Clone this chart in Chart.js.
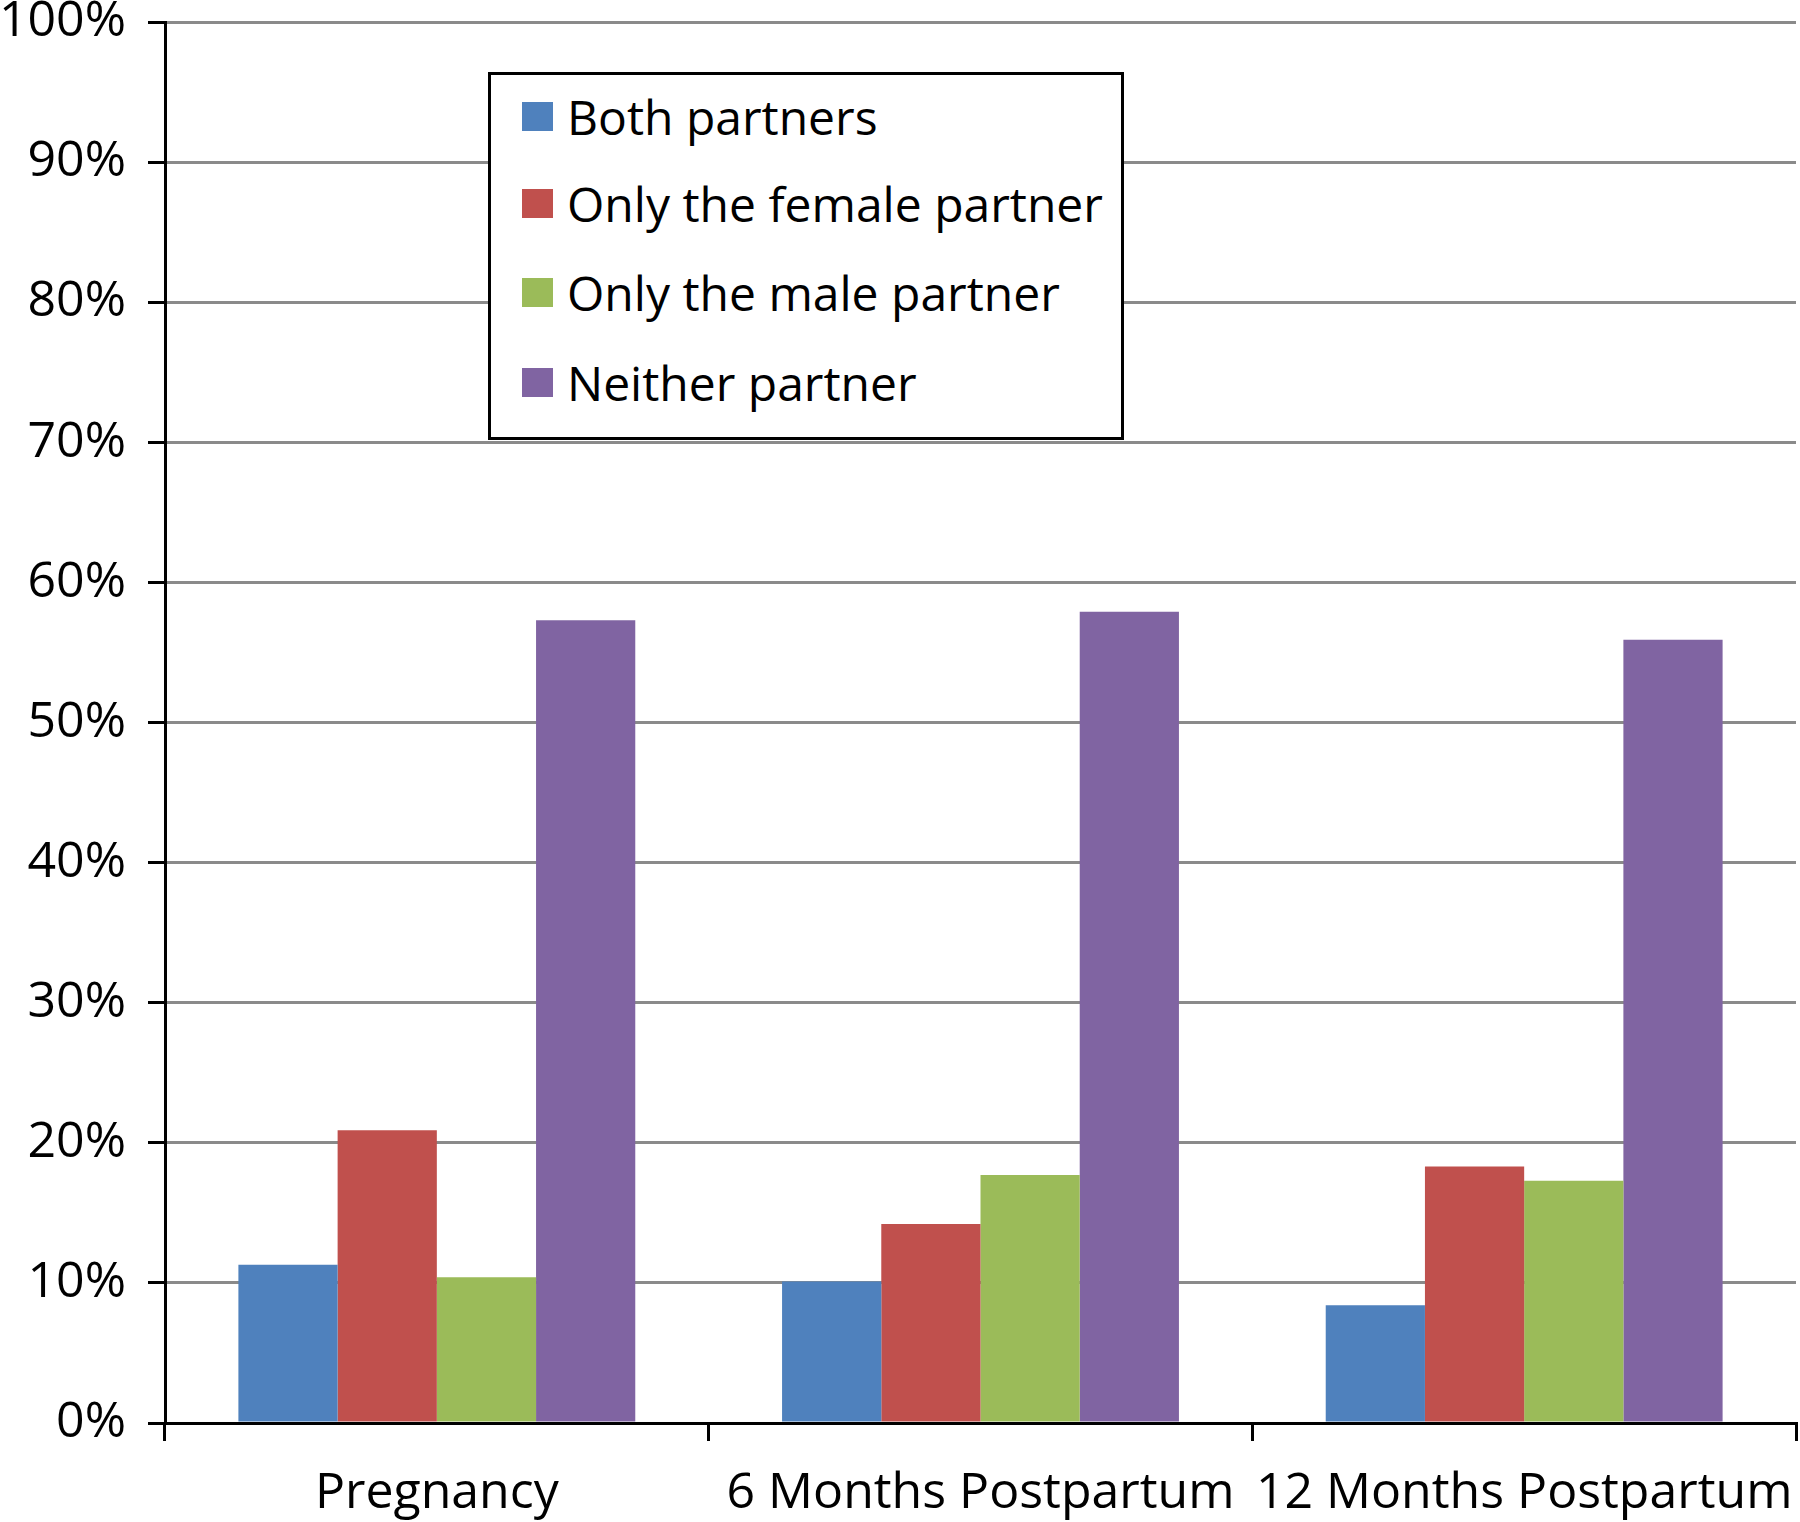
<!DOCTYPE html>
<html>
<head>
<meta charset="utf-8">
<script src="https://cdn.jsdelivr.net/npm/chart.js@4"></script>
<style>
  body { margin: 0; background: #fff; }
  #wrap { position: relative; width: 1800px; height: 1522px; }
  #legend {
    position: absolute; left: 488px; top: 72px; width: 630px; height: 362px;
    border: 3px solid #000; background: #fff;
    font-family: "Open Sans", sans-serif; font-size: 48px; color: #000;
  }
  #legend .item { position: absolute; left: 31px; height: 60px; display: flex; align-items: center; white-space: nowrap; }
  #legend .sw { width: 31px; height: 29px; margin-right: 14px; }
</style>
</head>
<body>
<div id="wrap">
  <canvas id="chart" width="1800" height="1522"></canvas>
  <div id="legend"></div>
</div>
<script>
// categories + series (percent)
const categories = ['Pregnancy', '6 Months Postpartum', '12 Months Postpartum'];
const seriesNames = ['Both partners', 'Only the female partner', 'Only the male partner', 'Neither partner'];
const bothPartners = [11.3, 10.1, 8.4];
const onlyFemale = [20.9, 14.2, 18.3];
const onlyMale = [10.4, 17.7, 17.3];
const neitherPartner = [57.3, 57.9, 55.9];
const colors = ['#4F81BD', '#C0504D', '#9BBB59', '#8064A2'];
const yTicks = [0, 10, 20, 30, 40, 50, 60, 70, 80, 90, 100];

const fontFamily = '"Open Sans", sans-serif';
const values = [bothPartners, onlyFemale, onlyMale, neitherPartner];

const ctx = document.getElementById('chart').getContext('2d');
const chart = new Chart(ctx, {
  type: 'bar',
  data: {
    labels: categories,
    datasets: seriesNames.map((name, i) => ({
      label: name,
      data: values[i],
      backgroundColor: colors[i],
      borderWidth: 0,
      barPercentage: 1,
      categoryPercentage: 0.73
    }))
  },
  options: {
    responsive: false,
    animation: false,
    devicePixelRatio: 1,
    layout: { padding: { left: 0, right: 4, top: 0, bottom: 0 } },
    plugins: {
      legend: { display: false },
      tooltip: { enabled: false }
    },
    scales: {
      x: {
        offset: true,
        grid: {
          offset: true,
          drawOnChartArea: false,
          drawTicks: true,
          tickLength: 18,
          tickColor: '#000',
          lineWidth: 3
        },
        border: { color: '#000', width: 3 },
        ticks: {
          color: '#000',
          padding: 23,
          maxRotation: 0,
          autoSkip: false,
          font: { family: fontFamily, size: 50 }
        },
        afterFit: (scale) => {
          scale.height = 99;
          scale.paddingLeft = 0;
          scale.paddingRight = 0;
        }
      },
      y: {
        min: 0,
        max: 100,
        afterBuildTicks: (scale) => { scale.ticks = yTicks.map(v => ({ value: v })); },
        grid: {
          color: '#8a8a8a',
          lineWidth: 3,
          tickColor: '#000',
          tickLength: 17
        },
        border: { color: '#000', width: 3 },
        ticks: {
          color: '#000',
          padding: 22,
          font: { family: fontFamily, size: 50, lineHeight: 1 },
          callback: (v) => v + '%'
        },
        afterFit: (scale) => {
          scale.width = 165;
          scale.paddingTop = 22;
          scale.paddingBottom = 0;
        }
      }
    }
  }
});

// legend as html, built from the datasets
const legendEl = document.getElementById('legend');
const rowTops = [11, 98, 187, 277];
chart.data.datasets.forEach((ds, i) => {
  const item = document.createElement('div');
  item.className = 'item';
  item.style.top = rowTops[i] + 'px';
  const sw = document.createElement('span');
  sw.className = 'sw';
  sw.style.background = ds.backgroundColor;
  const txt = document.createElement('span');
  txt.textContent = ds.label;
  item.appendChild(sw);
  item.appendChild(txt);
  legendEl.appendChild(item);
});
</script>
</body>
</html>
